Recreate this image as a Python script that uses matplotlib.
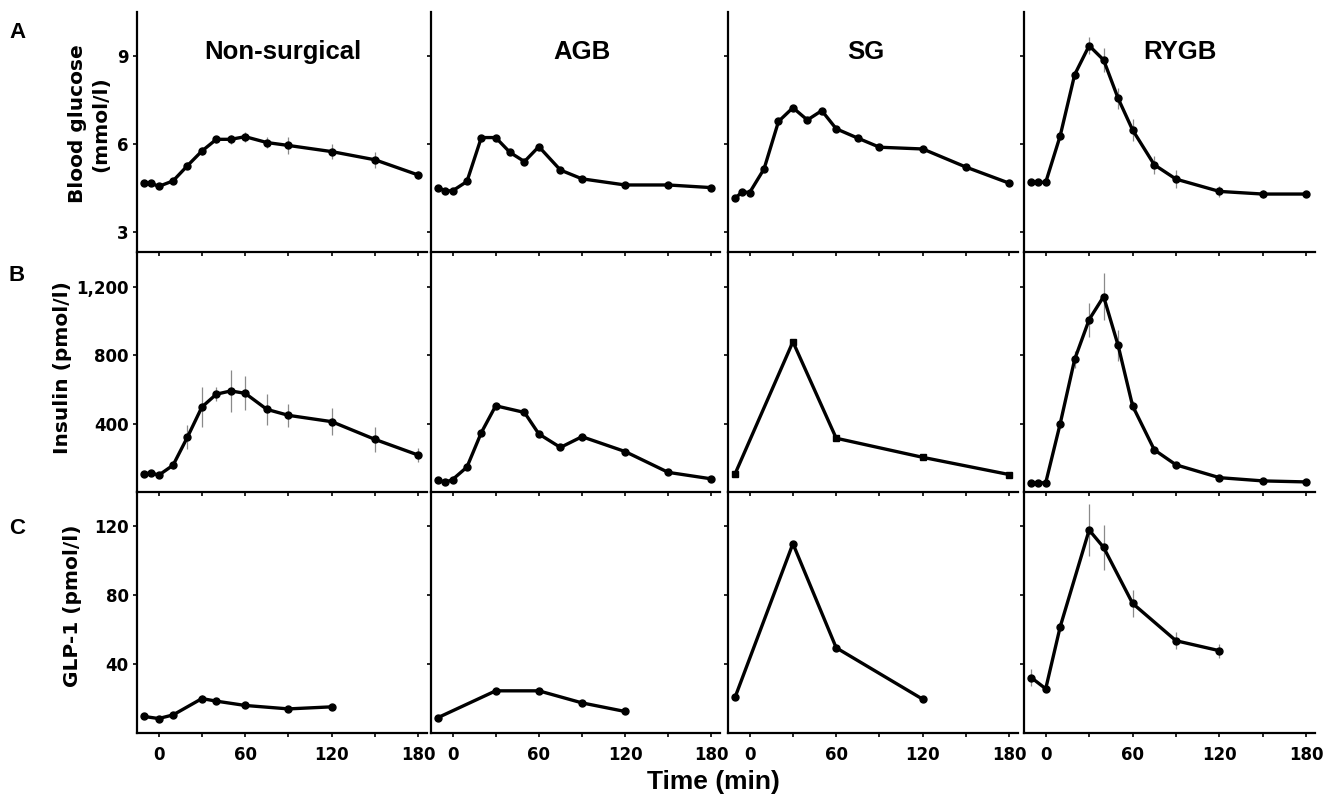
import matplotlib
matplotlib.use("Agg")
import matplotlib.pyplot as plt
import numpy as np

# ---------------- data ----------------
groups = ["Non-surgical", "AGB", "SG", "RYGB"]
row_letters = ["A", "B", "C"]
row_labels = ["Blood glucose\n(mmol/l)", "Insulin (pmol/l)", "GLP-1 (pmol/l)"]

times_full = [-10, -5, 0, 10, 20, 30, 40, 50, 60, 75, 90, 120, 150, 180]

# Row A: blood glucose (mmol/l)
glucose_nonsurg = [4.65, 4.65, 4.54, 4.73, 5.25, 5.75, 6.15, 6.15, 6.24, 6.04, 5.94, 5.73, 5.45, 4.93]
glucose_nonsurg_err = [0.05, 0.05, 0.05, 0.08, 0.12, 0.15, 0.12, 0.15, 0.17, 0.2, 0.28, 0.25, 0.28, 0.15]
glucose_agb = [4.50, 4.39, 4.39, 4.71, 6.21, 6.21, 5.70, 5.39, 5.90, 5.10, 4.80, 4.59, 4.59, 4.50]
glucose_agb_err = [0] * 14
glucose_sg = [4.14, 4.36, 4.33, 5.14, 6.76, 7.23, 6.81, 7.13, 6.51, 6.19, 5.88, 5.82, 5.20, 4.65]
glucose_sg_err = [0] * 14
glucose_rygb = [4.68, 4.68, 4.68, 6.27, 8.36, 9.35, 8.86, 7.55, 6.47, 5.28, 4.79, 4.37, 4.28, 4.28]
glucose_rygb_err = [0, 0, 0, 0.1, 0.15, 0.28, 0.4, 0.37, 0.37, 0.3, 0.3, 0.2, 0.15, 0.1]

# Row B: insulin (pmol/l)
times_ins_agb = [-10, -5, 0, 10, 20, 30, 50, 60, 75, 90, 120, 150, 180]
times_ins_sg = [-10, 30, 60, 120, 180]
insulin_nonsurg = [106, 112, 98, 157, 322, 498, 573, 592, 578, 484, 449, 412, 308, 216]
insulin_nonsurg_err = [15, 15, 12, 25, 73, 118, 40, 125, 100, 90, 69, 80, 73, 39]
insulin_agb = [69, 57, 73, 146, 348, 505, 466, 340, 261, 324, 237, 115, 77]
insulin_agb_err = [0] * 13
insulin_sg = [108, 880, 315, 203, 102]
insulin_sg_err = [0] * 5
insulin_rygb = [54, 54, 54, 400, 777, 1010, 1145, 859, 505, 247, 159, 84, 65, 59]
insulin_rygb_err = [0, 0, 0, 10, 48, 100, 140, 90, 30, 15, 0, 0, 0, 0]

# Row C: GLP-1 (pmol/l)
times_glp_nonsurg = [-10, 0, 10, 30, 40, 60, 90, 120]
times_glp_agb = [-10, 30, 60, 90, 120]
times_glp_sg = [-10, 30, 60, 120]
times_glp_rygb = [-10, 0, 10, 30, 40, 60, 90, 120]
glp1_nonsurg = [9.6, 8.4, 10.5, 20.0, 18.5, 16.0, 14.0, 15.2]
glp1_nonsurg_err = [0, 0, 0, 2, 1, 0, 0, 0]
glp1_agb = [9.0, 24.5, 24.5, 17.5, 12.5]
glp1_agb_err = [0] * 5
glp1_sg = [21.0, 110.0, 49.5, 19.6]
glp1_sg_err = [0] * 4
glp1_rygb = [32.2, 25.7, 61.7, 117.9, 107.8, 75.3, 53.6, 47.8]
glp1_rygb_err = [5, 0, 0, 15, 13, 8, 5, 4]

x_ticks = [0, 30, 60, 90, 120, 150, 180]
x_ticklabels = ["0", "", "60", "", "120", "", "180"]
y_ticks = [[3, 6, 9], [400, 800, 1200], [40, 80, 120]]
y_ticklabels = [["3", "6", "9"], ["400", "800", "1,200"], ["40", "80", "120"]]
y_limits = [(2.3, 10.5), (0, 1400), (0, 140)]
x_limits = (-15, 186)

panels = [
    [(times_full, glucose_nonsurg, glucose_nonsurg_err, "o"),
     (times_full, glucose_agb, glucose_agb_err, "o"),
     (times_full, glucose_sg, glucose_sg_err, "o"),
     (times_full, glucose_rygb, glucose_rygb_err, "o")],
    [(times_full, insulin_nonsurg, insulin_nonsurg_err, "o"),
     (times_ins_agb, insulin_agb, insulin_agb_err, "o"),
     (times_ins_sg, insulin_sg, insulin_sg_err, "s"),
     (times_full, insulin_rygb, insulin_rygb_err, "o")],
    [(times_glp_nonsurg, glp1_nonsurg, glp1_nonsurg_err, "o"),
     (times_glp_agb, glp1_agb, glp1_agb_err, "o"),
     (times_glp_sg, glp1_sg, glp1_sg_err, "o"),
     (times_glp_rygb, glp1_rygb, glp1_rygb_err, "o")],
]

# ---------------- layout (pixels) ----------------
W, H = 1336, 796
col_px = [(137, 427), (431, 720), (728, 1018), (1024, 1315)]
row_px = [(12, 252), (253, 492), (492, 733)]

fig = plt.figure(figsize=(W / 100, H / 100), dpi=100)
fig.patch.set_facecolor("white")

tick_font = dict(family="DejaVu Sans", weight="bold", size=12)
arial_bold = ["Liberation Sans", "Arial", "DejaVu Sans"]

for r in range(3):
    for c in range(4):
        x0, x1 = col_px[c]
        y0, y1 = row_px[r]
        ax = fig.add_axes([x0 / W, 1 - y1 / H, (x1 - x0) / W, (y1 - y0) / H])
        t, v, e, m = panels[r][c]
        t = np.asarray(t, float)
        v = np.asarray(v, float)
        e = np.asarray(e, float)
        mask = e > 0
        if mask.any():
            ax.errorbar(t[mask], v[mask], yerr=e[mask], fmt="none",
                        ecolor="#8a8a8a", elinewidth=0.9, capsize=0, zorder=1)
        ax.plot(t, v, color="black", lw=2.4, marker=m, markersize=5, zorder=3)
        ax.set_xlim(*x_limits)
        ax.set_ylim(*y_limits[r])
        for s in ["top", "right"]:
            ax.spines[s].set_visible(False)
        for s in ["left", "bottom"]:
            ax.spines[s].set_linewidth(1.6)
        ax.set_xticks(x_ticks)
        ax.set_yticks(y_ticks[r])
        ax.tick_params(axis="both", direction="out", length=3, width=1.2,
                       colors="black")
        if r == 2:
            ax.set_xticklabels(x_ticklabels, fontdict=tick_font)
            ax.tick_params(axis="x", pad=6)
        else:
            ax.set_xticklabels([])
        if c == 0:
            ax.set_yticklabels(y_ticklabels[r], fontdict=tick_font)
            ax.tick_params(axis="y", pad=3)
        else:
            ax.set_yticklabels([])
        ax.patch.set_alpha(0)

# column titles
title_px = [(283, 52), (582, 52), (866, 52), (1180, 52)]
for name, (tx, ty) in zip(groups, title_px):
    fig.text(tx / W, 1 - ty / H, name, ha="center", va="center",
             family=arial_bold, weight="bold", fontsize=18.5)

# row letters
letter_px = [(17, 32), (17, 275), (17, 528)]
for letter, (lx, ly) in zip(row_letters, letter_px):
    fig.text(lx / W, 1 - ly / H, letter, ha="center", va="center",
             family=arial_bold, weight="bold", fontsize=16)

# y labels
ylabel_px = [(89, 124), (63, 368), (72, 606)]
for lab, (lx, ly) in zip(row_labels, ylabel_px):
    fig.text(lx / W, 1 - ly / H, lab, rotation=90, ha="center", va="center",
             multialignment="center", linespacing=1.25,
             family="DejaVu Sans", weight="bold", fontsize=14.5)

# x label
fig.text(713 / W, 1 - 782 / H, "Time (min)", ha="center", va="center",
         family=arial_bold, weight="bold", fontsize=19)

fig.savefig("out.png", dpi=100, facecolor="white")
